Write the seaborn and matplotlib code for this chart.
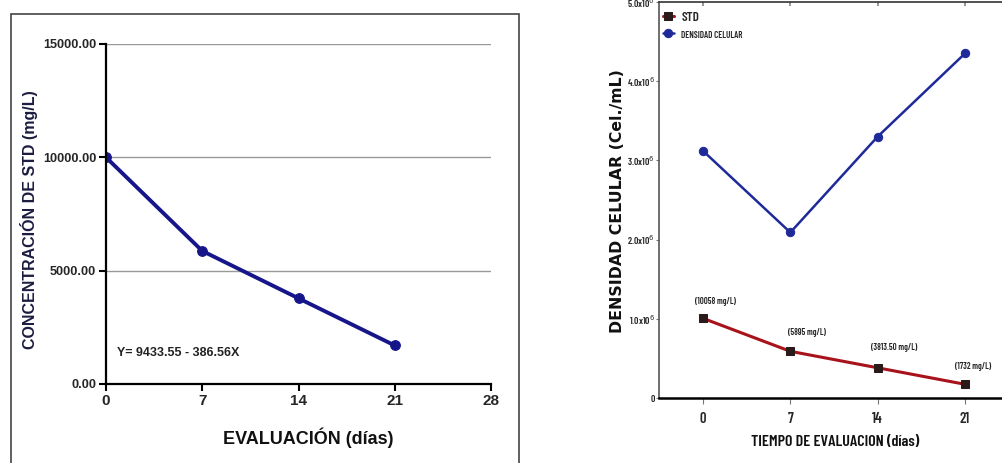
import numpy as np
import pandas as pd
import matplotlib
matplotlib.use("Agg")
import matplotlib.pyplot as plt
import seaborn as sns
from matplotlib.patches import Rectangle
from matplotlib.ticker import FixedLocator

sns.set_theme(style="white")
plt.rcParams['font.family'] = ['Liberation Sans', 'DejaVu Sans']

# ---------------- data ----------------
dias = [0, 7, 14, 21]
std_izq = [10000, 5870, 3780, 1700]          # left chart, mg/L
std_der = [10058, 5895, 3813.50, 1732]        # right chart labels, mg/L
std_etiquetas = ["(10058 mg/L)", "(5895 mg/L)", "(3813.50 mg/L)", "(1732 mg/L)"]
densidad = [3.12e6, 2.09e6, 3.30e6, 4.35e6]    # Cel./mL
ecuacion = "Y= 9433.55 - 386.56X"
y_ticks_izq = [0, 5000, 10000, 15000]
x_ticks_izq = [0, 7, 14, 21, 28]
y_ticks_der = [0, 1e6, 2e6, 3e6, 4e6, 5e6]
y_ticklabels_der = ["0", "1.0x10$^6$", "2.0x10$^6$", "3.0x10$^6$", "4.0x10$^6$", "5.0x10$^6$"]

NARROW = ['Barlow Condensed', 'Archivo Narrow', 'DejaVu Sans']
NSTRETCH = 'condensed'
NWEIGHT = 'semibold'

fig = plt.figure(figsize=(10.02, 4.63), dpi=100)
fig.patch.set_facecolor("white")

# ---------------- left chart ----------------
fig.add_artist(Rectangle((11/1002, -0.05), (519-11)/1002, 0.05 + (1 - 14/463),
                         transform=fig.transFigure, fill=False,
                         edgecolor="#444444", linewidth=1.2))

ax1 = fig.add_axes([106/1002, 1 - 384/463, (491-106)/1002, (384-44)/463])
df1 = pd.DataFrame({"dia": dias, "std": std_izq})
navy = "#16168a"
sns.lineplot(data=df1, x="dia", y="std", ax=ax1, color=navy, linewidth=2.8,
             marker="o", markersize=7, markeredgecolor=navy)
ax1.set_xlim(0, 28)
ax1.set_ylim(0, 15000)
ax1.set_xticks(x_ticks_izq)
ax1.set_yticks(y_ticks_izq)
ax1.set_yticklabels([f"{v:.2f}" for v in y_ticks_izq], fontsize=9.2, fontweight="bold")
ax1.set_xticklabels([str(v) for v in x_ticks_izq], fontsize=11, fontweight="bold")
for y in [5000, 10000, 15000]:
    ax1.axhline(y, color="#999999", linewidth=1.0, zorder=0)
for s in ["top", "right"]:
    ax1.spines[s].set_visible(False)
for s in ["left", "bottom"]:
    ax1.spines[s].set_color("black")
    ax1.spines[s].set_linewidth(1.6)
ax1.tick_params(axis="both", direction="out", length=5, width=1.5, color="black",
                left=True, bottom=True, pad=2)
ax1.set_xlabel("EVALUACIÓN (días)", fontsize=13, fontweight="bold", color="#111111")
ax1.xaxis.set_label_coords((308-106)/385, -(428-384)/340)
ax1.set_ylabel("CONCENTRACIÓN DE STD (mg/L)", fontsize=11.5, fontweight="bold",
               color="#1c1c40")
ax1.yaxis.set_label_coords((38-106)/385, (384-220)/340)
ax1.text(0.8, 1370, ecuacion, fontsize=9, fontweight="bold", color="#222222",
         va="center", ha="left")
ax1.set_facecolor("white")

# ---------------- right chart ----------------
ax2 = fig.add_axes([659/1002, 1 - 398/463, (1002-659)/1002, (398-2)/463])
df2 = pd.DataFrame({"dia": dias, "STD": [v * 100 for v in std_der],
                    "DENSIDAD CELULAR": densidad})
red = "#a8121a"
blue = "#1f2a9a"
sns.lineplot(data=df2, x="dia", y="STD", ax=ax2, color=red, linewidth=2.2,
             marker="s", markersize=6, markerfacecolor="#2a1a1a",
             markeredgecolor="#2a1a1a", label="STD")
sns.lineplot(data=df2, x="dia", y="DENSIDAD CELULAR", ax=ax2, color=blue,
             linewidth=1.8, marker="o", markersize=6, markeredgecolor=blue,
             label="DENSIDAD CELULAR")
ax2.set_xlim(-3.53, 23.97)
ax2.set_ylim(0, 5e6)
ax2.set_xticks(dias)
ax2.set_xticklabels([str(d) for d in dias], fontsize=10.5, family=NARROW,
                    stretch=NSTRETCH, weight=NWEIGHT)
ax2.yaxis.set_major_locator(FixedLocator(y_ticks_der))
ax2.set_yticklabels(y_ticklabels_der, fontsize=7, family=NARROW, stretch=NSTRETCH,
                    weight=NWEIGHT)
ax2.tick_params(axis="x", direction="out", length=4, width=0.8, color="#777777",
                pad=6, bottom=True)
ax2.tick_params(axis="y", direction="out", length=2, width=0.8, color="#777777",
                pad=1, left=True)
ax2.spines["right"].set_visible(False)
ax2.spines["left"].set_color("#555555")
ax2.spines["left"].set_linewidth(1.2)
ax2.spines["bottom"].set_color("black")
ax2.spines["bottom"].set_linewidth(1.8)
ax2.spines["top"].set_color("#333333")
ax2.spines["top"].set_linewidth(1.2)
ax_top = ax2.secondary_xaxis("top")
ax_top.set_xticks(dias)
ax_top.set_xticklabels([])
ax_top.tick_params(direction="in", length=3, color="#888888")
ax_top.spines["top"].set_visible(False)

offsets_px = [(12, 17), (17, 19), (16, 20), (8, 18)]
for d, v, lab, (dx, dy) in zip(dias, std_der, std_etiquetas, offsets_px):
    ax2.annotate(lab, (d, v * 100), xytext=(dx * 0.72, dy * 0.72),
                 textcoords="offset points", ha="center", va="center",
                 fontsize=6.2, family=NARROW, stretch=NSTRETCH, weight=NWEIGHT,
                 color="#222222")

ax2.set_xlabel("TIEMPO DE EVALUACION (días)", fontsize=11.6, family=NARROW,
               stretch=NSTRETCH, weight=NWEIGHT, color="#111111")
ax2.xaxis.set_label_coords((835-659)/343, -(435-398)/396)
ax2.set_ylabel("DENSIDAD CELULAR (Cel./mL)", fontsize=11.3, fontweight="bold",
               family=['DejaVu Sans'], color="#111111")
ax2.yaxis.set_label_coords((625-659)/343, (398-201)/396)

leg = ax2.legend(loc="upper left", bbox_to_anchor=(-0.02, 1.005), frameon=False,
                 handlelength=0.7, handletextpad=0.5, borderpad=0.2,
                 labelspacing=0.2)
texts = leg.get_texts()
texts[0].set_fontsize(9.5)
texts[0].set_family(NARROW)
texts[0].set_stretch(NSTRETCH)
texts[0].set_weight(NWEIGHT)
texts[1].set_fontsize(6.5)
texts[1].set_family(NARROW)
texts[1].set_stretch(NSTRETCH)
texts[1].set_weight(NWEIGHT)

fig.savefig("out.png", dpi=100, facecolor="white")
